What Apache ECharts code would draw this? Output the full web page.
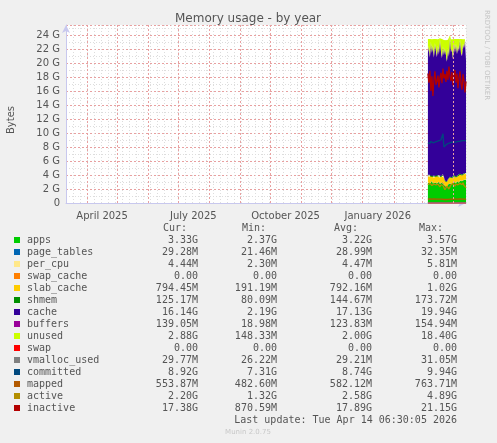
<!DOCTYPE html>
<html>
<head>
<meta charset="utf-8">
<script src="https://cdn.jsdelivr.net/npm/echarts@6/dist/echarts.min.js"></script>
<style>
  html, body { margin: 0; padding: 0; background: #f0f0f0; }
  #chart { width: 497px; height: 443px; }
</style>
</head>
<body>
<div id="chart"></div>
<script>
// days counted from 1 April 2025; axis spans 10 March 2025 .. 14 April 2026, data starts 7 March 2026
const firstDay = -21;
const lastDay = 378;
const startDay = 340;
const monthStarts = [0, 30, 61, 91, 122, 153, 183, 214, 244, 275, 306, 334, 365];
const quarterDays = [15, 106, 198, 290];
const quarterLabels = ['April 2025', 'July 2025', 'October 2025', 'January 2026'];

// values in GB, one per day
const apps = [2.9,3.0,2.8,2.9,3.1,2.8,2.7,2.9,3.0,2.8,2.9,3.0,2.7,2.8,2.9,3.0,2.6,2.4,2.5,2.3,2.6,2.7,2.8,2.9,2.7,2.8,3.0,2.9,2.8,3.1,3.0,2.9,3.2,3.0,3.1,3.2,3.3,3.2,3.33];
const pageTables = [0.03,0.03,0.03,0.03,0.03,0.03,0.03,0.03,0.03,0.03,0.03,0.03,0.03,0.03,0.03,0.03,0.02,0.02,0.02,0.02,0.03,0.03,0.03,0.03,0.03,0.03,0.03,0.03,0.03,0.03,0.03,0.03,0.03,0.03,0.03,0.03,0.03,0.03,0.03];
const perCpu = [0.004,0.004,0.004,0.004,0.004,0.004,0.004,0.004,0.004,0.004,0.004,0.004,0.004,0.004,0.004,0.004,0.004,0.004,0.004,0.004,0.004,0.004,0.004,0.004,0.004,0.004,0.004,0.004,0.004,0.004,0.004,0.004,0.004,0.004,0.004,0.004,0.004,0.004,0.004];
const swapCache = [0,0,0,0,0,0,0,0,0,0,0,0,0,0,0,0,0,0,0,0,0,0,0,0,0,0,0,0,0,0,0,0,0,0,0,0,0,0,0];
const slabCache = [0.85,0.9,0.95,0.8,0.85,0.9,0.85,0.8,0.9,0.95,0.85,0.8,0.9,0.85,0.9,0.95,1.0,0.7,0.6,0.65,0.7,0.75,0.8,0.85,0.8,0.75,0.8,0.85,0.8,0.75,0.8,0.85,0.8,0.75,0.8,0.8,0.78,0.8,0.79];
const shmem = [0.15,0.15,0.16,0.15,0.14,0.15,0.15,0.16,0.15,0.14,0.15,0.15,0.16,0.15,0.15,0.14,0.1,0.08,0.09,0.1,0.11,0.12,0.13,0.13,0.14,0.14,0.15,0.15,0.14,0.15,0.15,0.16,0.15,0.15,0.14,0.13,0.13,0.12,0.13];
const cache = [17.5,18.2,16.8,19.0,17.3,18.5,17.0,18.8,17.6,16.9,18.4,17.2,19.5,17.8,16.7,18.1,17.4,18.9,17.9,17.1,18.6,17.3,19.9,17.6,18.2,16.8,18.7,17.5,18.9,17.2,18.3,17.7,19.2,17.4,16.9,18.5,17.8,19.0,16.14];
const buffers = [0.13,0.13,0.14,0.13,0.13,0.12,0.13,0.14,0.13,0.13,0.12,0.13,0.14,0.13,0.13,0.14,0.05,0.02,0.04,0.06,0.08,0.1,0.11,0.12,0.12,0.13,0.13,0.14,0.13,0.13,0.14,0.14,0.13,0.14,0.15,0.14,0.14,0.15,0.14];
const unused = [1.85,1.0,2.55,0.4,1.85,0.9,2.55,0.6,1.6,2.45,0.95,2.1,0.1,1.65,2.6,1.05,2.1,1.1,2.1,3.05,1.2,2.35,0.2,1.75,1.4,2.75,0.6,1.85,0.6,2.05,1.0,1.65,0.2,1.95,2.3,0.6,1.22,0.1,2.88];
const swap = [0,0,0,0,0,0,0,0,0,0,0,0,0,0,0,0,0,0,0,0,0,0,0,0,0,0,0,0,0,0,0,0,0,0,0,0,0,0,0];
const vmallocUsed = [0.03,0.03,0.03,0.03,0.03,0.03,0.03,0.03,0.03,0.03,0.03,0.03,0.03,0.03,0.03,0.03,0.03,0.03,0.03,0.03,0.03,0.03,0.03,0.03,0.03,0.03,0.03,0.03,0.03,0.03,0.03,0.03,0.03,0.03,0.03,0.03,0.03,0.03,0.03];
const committed = [8.6,8.7,8.5,8.8,8.7,8.6,8.8,8.7,8.9,8.8,8.7,8.9,8.8,9.0,8.9,9.9,8.0,8.2,8.3,8.4,8.5,8.5,8.6,8.6,8.7,8.6,8.7,8.8,8.7,8.8,8.8,8.9,8.8,8.9,8.9,8.8,8.9,8.9,8.92];
const mapped = [0.56,0.56,0.57,0.56,0.55,0.56,0.57,0.56,0.56,0.55,0.56,0.57,0.56,0.56,0.55,0.56,0.5,0.49,0.5,0.52,0.53,0.54,0.55,0.55,0.56,0.56,0.57,0.56,0.56,0.55,0.56,0.56,0.57,0.56,0.56,0.55,0.56,0.55,0.55];
const active = [2.6,2.4,2.8,2.9,2.5,2.3,2.7,2.9,2.6,2.4,2.7,2.5,2.3,2.6,2.8,2.5,2.2,1.9,2.1,2.4,2.2,2.0,2.3,2.6,2.5,2.8,2.6,2.4,2.7,2.9,2.6,2.5,2.8,2.7,2.6,2.9,2.5,2.4,2.20];
const inactive = [18.5,17.2,18.9,16.0,18.1,15.3,17.6,18.8,16.9,17.4,18.2,16.5,17.9,18.6,17.1,19.2,17.8,18.4,17.3,18.9,17.6,19.5,18.1,17.4,18.7,16.8,18.3,19.0,17.2,18.5,16.4,17.9,18.8,17.1,16.2,18.4,17.5,15.8,17.38];

// legend table
const names = ['apps','page_tables','per_cpu','swap_cache','slab_cache','shmem','cache','buffers','unused','swap','vmalloc_used','committed','mapped','active','inactive'];
const colors = ['#00CC00','#0066B3','#FFE88A','#FF8000','#FFCC00','#008F00','#330099','#990099','#CCFF00','#FF0000','#808080','#00487D','#B35A00','#B38F00','#B30000'];
const curVals = ['3.33G','29.28M','4.44M','0.00','794.45M','125.17M','16.14G','139.05M','2.88G','0.00','29.77M','8.92G','553.87M','2.20G','17.38G'];
const minVals = ['2.37G','21.46M','2.30M','0.00','191.19M','80.09M','2.19G','18.98M','148.33M','0.00','26.22M','7.31G','482.60M','1.32G','870.59M'];
const avgVals = ['3.22G','28.99M','4.47M','0.00','792.16M','144.67M','17.13G','123.83M','2.00G','0.00','29.21M','8.74G','582.12M','2.58G','17.89G'];
const maxVals = ['3.57G','32.35M','5.81M','0.00','1.02G','173.72M','19.94G','154.94M','18.40G','0.00','31.05M','9.94G','763.71M','4.89G','21.15G'];

const stacked = [apps, pageTables, perCpu, swapCache, slabCache, shmem, cache, buffers, unused];
const lines = [swap, vmallocUsed, committed, mapped, active, inactive];

// one category per day of the axis
const days = [];
for (let d = firstDay; d <= lastDay; d++) days.push(d);
const toSeries = arr => days.map(d => (d >= startDay && d - startDay < arr.length ? arr[d - startDay] : null));

const series = [];
stacked.forEach((arr, k) => {
  series.push({
    name: names[k], type: 'line', stack: 'mem', data: toSeries(arr),
    symbol: 'none', showSymbol: false, lineStyle: { width: 0 },
    areaStyle: { color: colors[k], opacity: 1 }, itemStyle: { color: colors[k] },
    silent: true, animation: false
  });
});
lines.forEach((arr, k) => {
  const idx = stacked.length + k;
  series.push({
    name: names[idx], type: 'line', data: toSeries(arr),
    symbol: 'none', showSymbol: false, lineStyle: { width: 1.3, color: colors[idx] },
    itemStyle: { color: colors[idx] }, silent: true, animation: false
  });
});
// month boundaries
series[0].markLine = {
  symbol: 'none', silent: true, animation: false, label: { show: false },
  lineStyle: { color: '#e8a0a0', type: [2, 2], width: 1 },
  data: monthStarts.map(d => ({ xAxis: d - firstDay }))
};

const font = 'DejaVu Sans, sans-serif';
const mono = 'DejaVu Sans Mono, monospace';
const txtStyle = (x, y, text, extra) => ({
  type: 'text', x, y, silent: true,
  style: Object.assign({ text, fill: '#555', font: '10px ' + mono, textVerticalAlign: 'middle' }, extra || {})
});

const graphic = [
  txtStyle(248, 19, 'Memory usage - by year', { font: '12px ' + font, textAlign: 'center' }),
  { type: 'text', x: 11, y: 120, rotation: Math.PI / 2, silent: true,
    style: { text: 'Bytes', fill: '#555', font: '10px ' + font, textAlign: 'center', textVerticalAlign: 'middle' } },
  { type: 'text', x: 487, y: 55, rotation: -Math.PI / 2, silent: true,
    style: { text: 'RRDTOOL / TOBI OETIKER', fill: '#c4c4c4', font: '7px ' + font, textAlign: 'center', textVerticalAlign: 'middle' } },
  txtStyle(187, 228, 'Cur:', { textAlign: 'right' }),
  txtStyle(266, 228, 'Min:', { textAlign: 'right' }),
  txtStyle(358, 228, 'Avg:', { textAlign: 'right' }),
  txtStyle(443, 228, 'Max:', { textAlign: 'right' }),
  txtStyle(457, 420, 'Last update: Tue Apr 14 06:30:05 2026', { textAlign: 'right' }),
  txtStyle(248, 432, 'Munin 2.0.75', { fill: '#c8c8c8', font: '7px ' + font, textAlign: 'center' })
];
names.forEach((n, i) => {
  const y = 240 + i * 12;
  graphic.push({ type: 'rect', silent: true, shape: { x: 14, y: y - 3, width: 6, height: 6 }, style: { fill: colors[i] } });
  graphic.push(txtStyle(27, y, n));
  graphic.push(txtStyle(198, y, curVals[i], { textAlign: 'right' }));
  graphic.push(txtStyle(277, y, minVals[i], { textAlign: 'right' }));
  graphic.push(txtStyle(372, y, avgVals[i], { textAlign: 'right' }));
  graphic.push(txtStyle(457, y, maxVals[i], { textAlign: 'right' }));
});

const chart = echarts.init(document.getElementById('chart'), null, { renderer: 'canvas' });
chart.setOption({
  backgroundColor: '#f0f0f0',
  animation: false,
  grid: { left: 66, top: 25, width: 400, height: 178, backgroundColor: '#fff', show: true, borderWidth: 0 },
  xAxis: {
    type: 'category', data: days, boundaryGap: false,
    axisLine: { show: true, lineStyle: { color: '#c8c8ee' }, symbol: ['none', 'arrow'], symbolSize: [6, 8] },
    axisTick: { show: false },
    axisLabel: {
      color: '#555', fontSize: 10, fontFamily: font, margin: 8,
      interval: (i, v) => quarterDays.indexOf(Number(v)) >= 0,
      formatter: v => quarterLabels[quarterDays.indexOf(Number(v))] || ''
    },
    splitLine: { show: true, interval: i => i % 7 === 0, lineStyle: { color: '#ddd', type: [1, 2] } }
  },
  yAxis: {
    type: 'value', min: 0, max: 25.43, interval: 2,
    axisLine: { show: true, onZero: false, lineStyle: { color: '#c8c8ee' }, symbol: ['none', 'arrow'], symbolSize: [6, 8] },
    axisTick: { show: false },
    axisLabel: {
      color: '#555', fontSize: 10, fontFamily: font, margin: 6,
      formatter: v => (v === 0 ? '0' : (v > 25 ? '' : v + ' G'))
    },
    splitLine: { show: true, lineStyle: { color: '#e8a0a0', type: [2, 2] } },
    minorTick: { show: false, splitNumber: 2 },
    minorSplitLine: { show: true, lineStyle: { color: '#ddd', type: [1, 2] } }
  },
  series,
  graphic
});
</script>
</body>
</html>
